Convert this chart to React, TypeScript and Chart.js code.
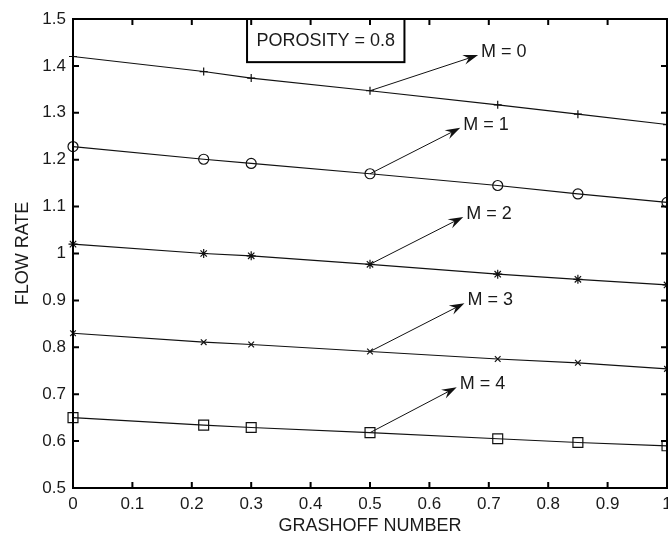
import React, { useEffect, useRef } from "react";
import { Chart, registerables } from "chart.js";

Chart.register(...registerables);

const FONT = "'Liberation Sans', Arial, sans-serif";
const TEXT = "#1a1a1a";

const grashoff = [0, 0.22, 0.3, 0.5, 0.715, 0.85, 1];
const flowM0 = [1.42, 1.388, 1.374, 1.347, 1.317, 1.297, 1.275];
const flowM1 = [1.228, 1.201, 1.192, 1.17, 1.145, 1.127, 1.109];
const flowM2 = [1.02, 1.0, 0.995, 0.977, 0.956, 0.945, 0.933];
const flowM3 = [0.83, 0.811, 0.806, 0.791, 0.775, 0.767, 0.754];
const flowM4 = [0.65, 0.634, 0.629, 0.618, 0.605, 0.597, 0.59];

const seriesNames = ["M = 0", "M = 1", "M = 2", "M = 3", "M = 4"];
const seriesValues = [flowM0, flowM1, flowM2, flowM3, flowM4];
const seriesMarkers = ["cross", "circle", "star", "crossRot", "rect"];
const markerRadius = [4, 5, 4.5, 4, 7];

const xTickValues = [0, 0.1, 0.2, 0.3, 0.4, 0.5, 0.6, 0.7, 0.8, 0.9, 1];
const xTickLabels = ["0", "0.1", "0.2", "0.3", "0.4", "0.5", "0.6", "0.7", "0.8", "0.9", "1"];
const yTickValues = [0.5, 0.6, 0.7, 0.8, 0.9, 1, 1.1, 1.2, 1.3, 1.4, 1.5];
const yTickLabels = ["0.5", "0.6", "0.7", "0.8", "0.9", "1", "1.1", "1.2", "1.3", "1.4", "1.5"];

// arrow annotations: each arrow runs from the series point at x = 0.5 to its tip
const annotationStartX = 0.5;
const annotationTipX = [0.682, 0.652, 0.657, 0.659, 0.646];
const annotationTipY = [1.423, 1.268, 1.078, 0.894, 0.715];

const boxText = "POROSITY = 0.8";
const boxXRange = [0.293, 0.558];
const boxYRange = [1.408, 1.5];

function lookup(values: number[], labels: string[], v: number) {
  const i = values.findIndex((t) => Math.abs(t - v) < 1e-9);
  return i >= 0 ? labels[i] : "";
}

function drawArrow(ctx: CanvasRenderingContext2D, x0: number, y0: number, x1: number, y1: number) {
  const ang = Math.atan2(y1 - y0, x1 - x0);
  const L = 15;
  const W = 5;
  ctx.beginPath();
  ctx.moveTo(x0, y0);
  ctx.lineTo(x1 - Math.cos(ang) * L * 0.6, y1 - Math.sin(ang) * L * 0.6);
  ctx.stroke();
  ctx.save();
  ctx.translate(x1, y1);
  ctx.rotate(ang);
  ctx.beginPath();
  ctx.moveTo(0, 0);
  ctx.lineTo(-L, -W);
  ctx.lineTo(-L * 0.65, 0);
  ctx.lineTo(-L, W);
  ctx.closePath();
  ctx.fill();
  ctx.restore();
}

const framePlugin = {
  id: "frame",
  afterDatasetsDraw(chart: any) {
    const ctx: CanvasRenderingContext2D = chart.ctx;
    const { left, right, top, bottom } = chart.chartArea;
    const xs = chart.scales.x;
    const ys = chart.scales.y;
    ctx.save();

    // inward tick marks on all four sides
    ctx.strokeStyle = "#000";
    ctx.lineWidth = 2;
    const tl = 6;
    ctx.beginPath();
    xTickValues.forEach((v) => {
      const px = xs.getPixelForValue(v);
      ctx.moveTo(px, bottom);
      ctx.lineTo(px, bottom - tl);
      ctx.moveTo(px, top);
      ctx.lineTo(px, top + tl);
    });
    yTickValues.forEach((v) => {
      const py = ys.getPixelForValue(v);
      ctx.moveTo(left, py);
      ctx.lineTo(left + tl, py);
      ctx.moveTo(right, py);
      ctx.lineTo(right - tl, py);
    });
    ctx.stroke();

    // axes box
    ctx.lineWidth = 2;
    ctx.strokeRect(left, top, right - left, bottom - top);

    // arrows and their labels
    ctx.strokeStyle = "#111";
    ctx.lineWidth = 1;
    ctx.font = `18px ${FONT}`;
    ctx.textBaseline = "middle";
    ctx.textAlign = "left";
    const idx = grashoff.indexOf(annotationStartX);
    seriesValues.forEach((vals, i) => {
      const x0 = xs.getPixelForValue(annotationStartX);
      const y0 = ys.getPixelForValue(vals[idx]);
      const x1 = xs.getPixelForValue(annotationTipX[i]);
      const y1 = ys.getPixelForValue(annotationTipY[i]);
      ctx.fillStyle = "#111";
      drawArrow(ctx, x0, y0, x1, y1);
      ctx.fillStyle = TEXT;
      ctx.fillText(seriesNames[i], x1 + 3, y1 - 3);
    });

    // porosity box
    const bx0 = xs.getPixelForValue(boxXRange[0]);
    const bx1 = xs.getPixelForValue(boxXRange[1]);
    const by0 = ys.getPixelForValue(boxYRange[1]);
    const by1 = ys.getPixelForValue(boxYRange[0]);
    ctx.strokeStyle = "#000";
    ctx.lineWidth = 2;
    ctx.strokeRect(bx0, by0, bx1 - bx0, by1 - by0);
    ctx.fillStyle = TEXT;
    ctx.textAlign = "center";
    ctx.fillText(boxText, (bx0 + bx1) / 2, (by0 + by1) / 2);
    ctx.restore();
  },
};

export default function App() {
  const canvasRef = useRef<HTMLCanvasElement | null>(null);

  useEffect(() => {
    document.body.style.margin = "0";
    const canvas = canvasRef.current;
    if (!canvas) return;
    const chart = new Chart(canvas, {
      type: "line",
      data: {
        datasets: seriesValues.map((vals, i) => ({
          label: seriesNames[i],
          data: grashoff.map((x, j) => ({ x, y: vals[j] })),
          borderColor: "#111",
          borderWidth: 1.2,
          backgroundColor: "rgba(0,0,0,0)",
          pointStyle: seriesMarkers[i] as any,
          pointRadius: markerRadius[i],
          pointHoverRadius: markerRadius[i],
          pointBorderColor: "#111",
          pointBackgroundColor: "rgba(0,0,0,0)",
          pointBorderWidth: 1.2,
          tension: 0,
          clip: false as any,
        })),
      },
      options: {
        responsive: false,
        animation: false,
        devicePixelRatio: 1,
        layout: { autoPadding: false, padding: { top: 19, right: 1, left: 14, bottom: 0 } },
        plugins: {
          legend: { display: false },
          tooltip: { enabled: false },
        },
        scales: {
          x: {
            type: "linear",
            min: 0,
            max: 1,
            grid: { display: false, drawTicks: false },
            border: { display: false },
            afterBuildTicks: (s: any) => {
              s.ticks = xTickValues.map((v) => ({ value: v }));
            },
            afterFit: (s: any) => {
              s.height = 47;
              s.paddingLeft = 0;
              s.paddingRight = 0;
            },
            ticks: {
              padding: 6,
              color: TEXT,
              maxRotation: 0,
              autoSkip: false,
              font: { family: FONT, size: 17 },
              callback: (v: any) => lookup(xTickValues, xTickLabels, Number(v)),
            },
            title: {
              display: true,
              text: "GRASHOFF NUMBER",
              color: TEXT,
              padding: 0,
              font: { family: FONT, size: 18, lineHeight: 1 },
            },
          },
          y: {
            type: "linear",
            min: 0.5,
            max: 1.5,
            grid: { display: false, drawTicks: false },
            border: { display: false },
            afterBuildTicks: (s: any) => {
              s.ticks = yTickValues.map((v) => ({ value: v }));
            },
            afterFit: (s: any) => {
              s.width = 59;
              s.paddingTop = 0;
              s.paddingBottom = 0;
            },
            ticks: {
              padding: 7,
              color: TEXT,
              autoSkip: false,
              font: { family: FONT, size: 17 },
              callback: (v: any) => lookup(yTickValues, yTickLabels, Number(v)),
            },
            title: {
              display: true,
              text: "FLOW RATE",
              color: TEXT,
              padding: 0,
              font: { family: FONT, size: 18, lineHeight: 1 },
            },
          },
        },
      },
      plugins: [framePlugin],
    });
    return () => chart.destroy();
  }, []);

  return <canvas ref={canvasRef} width={668} height={535} style={{ display: "block" }} />;
}
